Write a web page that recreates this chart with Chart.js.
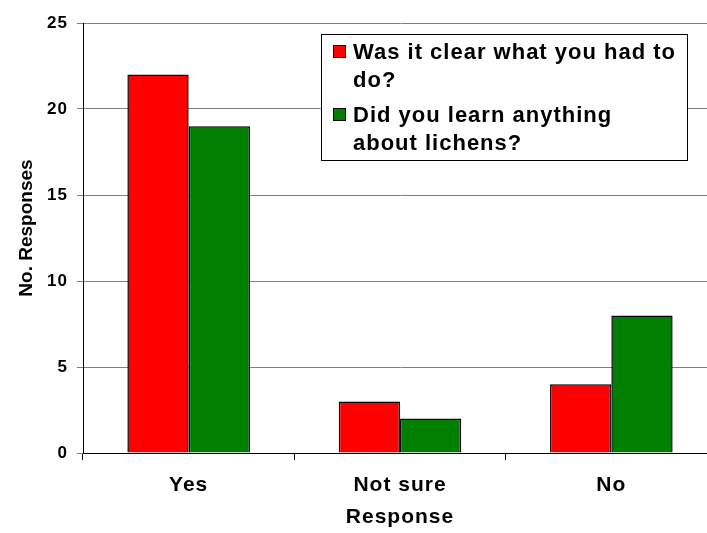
<!DOCTYPE html>
<html>
<head>
<meta charset="utf-8">
<script src="https://cdn.jsdelivr.net/npm/chart.js@4.4.1/dist/chart.umd.min.js"></script>
<style>
    html, body { margin: 0; padding: 0; overflow: hidden; background: #fff; }
    #wrap { width: 730px; height: 533px; }
</style>
</head>
<body>
<div id="wrap"><canvas id="chart" width="730" height="533"></canvas></div>
<script>
// --- data ---
const categories = ['Yes', 'Not sure', 'No'];
const clearValues = [22, 3, 4];     // Was it clear what you had to do?
const learnValues = [19, 2, 8];     // Did you learn anything about lichens?
const seriesLabels = [
    ['Was it clear what you had to', 'do?'],
    ['Did you learn anything', 'about lichens?'],
];
const seriesColors = ['#ff0000', '#008000'];
const yTicks = [0, 5, 10, 15, 20, 25];
const xTitle = 'Response';
const yTitle = 'No. Responses';

const FONT = '"Liberation Sans", Arial, sans-serif';

// Excel-ish wide text spacing for everything drawn on the canvas
const spacingPlugin = {
    id: 'spacing',
    beforeDraw: (chart) => { chart.ctx.letterSpacing = '1px'; },
};

// Boxed legend sitting inside the plot, plus the rotated y title
const boxLegend = {
    id: 'boxLegend',
    afterDraw: (chart) => {
        const ctx = chart.ctx;
        const area = chart.chartArea;
        const bx = area.left + 238, by = area.top + 11, bw = 366, bh = 126;

        ctx.save();
        ctx.letterSpacing = '1px';
        ctx.fillStyle = '#fff';
        ctx.fillRect(bx, by, bw, bh);
        ctx.strokeStyle = '#000';
        ctx.lineWidth = 1;
        ctx.strokeRect(bx + 0.5, by + 0.5, bw, bh);

        ctx.font = `bold 22px ${FONT}`;
        ctx.textBaseline = 'alphabetic';
        ctx.textAlign = 'left';
        let base = by + 25;
        chart.data.datasets.forEach((ds, i) => {
            ctx.fillStyle = ds.backgroundColor;
            ctx.fillRect(bx + 12, base - 14, 12, 12);
            ctx.strokeRect(bx + 12.5, base - 13.5, 12, 12);
            ctx.fillStyle = '#000';
            seriesLabels[i].forEach((line, j) => {
                ctx.fillText(line, bx + 32, base + j * 28);
            });
            base += 63;
        });

        // y axis title
        ctx.letterSpacing = '0px';
        ctx.font = `bold 19px ${FONT}`;
        ctx.textAlign = 'center';
        ctx.textBaseline = 'middle';
        ctx.translate(27, 228);
        ctx.rotate(-Math.PI / 2);
        ctx.fillText(yTitle, 0, 0);
        ctx.restore();
    },
};

new Chart(document.getElementById('chart'), {
    type: 'bar',
    data: {
        labels: categories,
        datasets: [
            { label: seriesLabels[0].join(' '), data: clearValues, backgroundColor: seriesColors[0] },
            { label: seriesLabels[1].join(' '), data: learnValues, backgroundColor: seriesColors[1] },
        ],
    },
    options: {
        responsive: false,
        devicePixelRatio: 1,
        animation: false,
        layout: { padding: { top: 23, right: 13, bottom: 0, left: 0 } },
        datasets: {
            bar: {
                borderColor: '#000',
                borderWidth: 1.5,
                barPercentage: 1.0,
                categoryPercentage: 0.58,
            },
        },
        plugins: {
            legend: { display: false },
            tooltip: { enabled: false },
        },
        scales: {
            x: {
                grid: { drawOnChartArea: false, drawTicks: true, tickLength: 7, color: '#000', offset: true },
                border: { color: '#000', width: 1 },
                ticks: { color: '#000', padding: 13, font: { family: FONT, size: 21, weight: 'bold' } },
                title: {
                    display: true, text: xTitle, color: '#000',
                    font: { family: FONT, size: 21, weight: 'bold' },
                    padding: { top: 0, bottom: 3 },
                },
                afterFit: (s) => { s.height = 80; },
            },
            y: {
                min: 0,
                max: 25,
                grid: { color: '#808080', tickColor: '#808080', tickLength: 6 },
                border: { color: '#000', width: 1 },
                ticks: { color: '#000', padding: 9, font: { family: FONT, size: 17, weight: 'bold' } },
                afterBuildTicks: (s) => { s.ticks = yTicks.map((v) => ({ value: v })); },
                afterFit: (s) => { s.width = 83; },
            },
        },
    },
    plugins: [spacingPlugin, boxLegend],
});
</script>
</body>
</html>
